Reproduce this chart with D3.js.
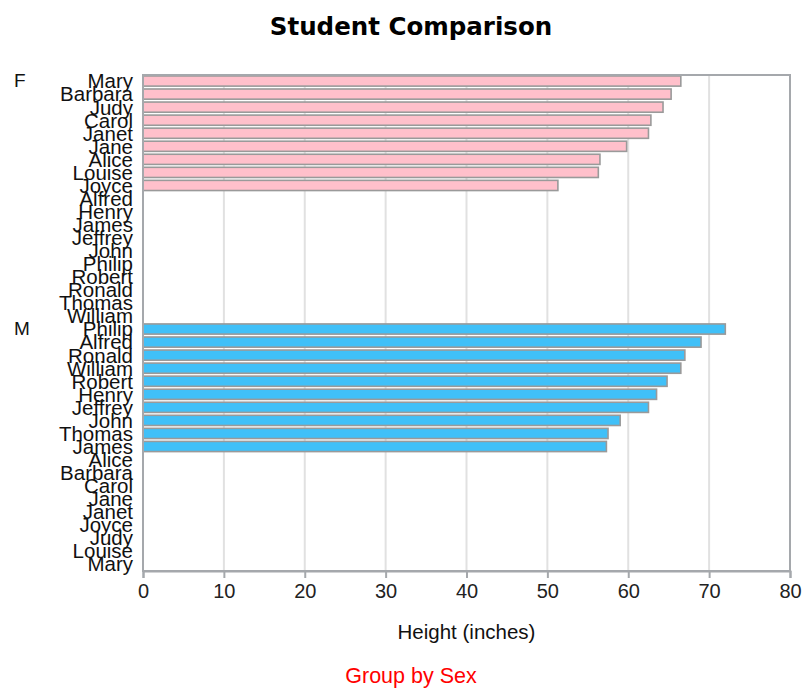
<!DOCTYPE html>
<html>
<head>
<meta charset="utf-8">
<script src="https://cdn.jsdelivr.net/npm/d3@7"></script>
<style>
  html, body { margin: 0; padding: 0; background: #fff; }
  svg { display: block; }
  text { font-family: "Liberation Sans", Arial, sans-serif; }
</style>
</head>
<body>
<svg id="chart" width="803" height="688"></svg>
<script>
// ---- data ----
const names   = ["Alfred","Alice","Barbara","Carol","Henry","James","Jane","Janet","Jeffrey","John","Joyce","Judy","Louise","Mary","Philip","Robert","Ronald","Thomas","William"];
const sexes   = ["M","F","F","F","M","M","F","F","M","M","F","F","F","F","M","M","M","M","M"];
const heights = [69.0,56.5,65.3,62.8,63.5,57.3,59.8,62.5,62.5,59.0,51.3,64.3,56.3,66.5,72.0,64.8,67.0,57.5,66.5];
const groups  = ["F","M"];
const xTicks  = [0,10,20,30,40,50,60,70,80];
const colors  = {F: "#FFC0CB", M: "#40C0F8"};
const titleText = "Student Comparison";
const xLabel = "Height (inches)";
const footText = "Group by Sex";

const students = names.map((n,i) => ({name: n, sex: sexes[i], height: heights[i]}));

const rows = [];
groups.forEach(g => {
  const inG = students.filter(s => s.sex === g).sort((a,b) => b.height - a.height);
  const out = students.filter(s => s.sex !== g).sort((a,b) => d3.ascending(a.name,b.name));
  inG.forEach((s,i) => rows.push({key: g + "|" + s.name, group: g, name: s.name, value: s.height, first: i === 0}));
  out.forEach(s => rows.push({key: g + "|" + s.name, group: g, name: s.name, value: null, first: false}));
});

const svg = d3.select("#chart");
const pLeft = 143, pRight = 790, pTop = 75, pBottom = 571;

const x = d3.scaleLinear().domain([0, 80]).range([pLeft, pRight]);
const y = d3.scaleBand().domain(rows.map(r => r.key)).range([pTop - 0.5, pBottom - 0.5]).paddingInner(0.22).paddingOuter(0.11);

svg.append("text").attr("x", 411).attr("y", 35).attr("text-anchor", "middle")
  .style("font-family", "'DejaVu Sans', Verdana, sans-serif").style("font-weight", "bold").style("font-size", "24.5px")
  .text(titleText);

svg.append("g").selectAll("line").data(xTicks.filter(t => t > 0 && t < 80)).join("line")
  .attr("x1", d => x(d)).attr("x2", d => x(d)).attr("y1", pTop).attr("y2", pBottom)
  .attr("stroke", "#E1E1E1").attr("stroke-width", 2);

svg.append("g").selectAll("rect").data(rows.filter(r => r.value != null)).join("rect")
  .attr("x", x(0)).attr("y", d => y(d.key))
  .attr("width", d => x(d.value) - x(0)).attr("height", y.bandwidth())
  .attr("fill", d => colors[d.group]).attr("stroke", "#9A9A9A").attr("stroke-width", 1.6);

svg.append("rect").attr("x", pLeft).attr("y", pTop).attr("width", pRight - pLeft).attr("height", pBottom - pTop)
  .attr("fill", "none").attr("stroke", "#A5A8AC").attr("stroke-width", 2);

const xAxis = d3.axisBottom(x).tickValues(xTicks).tickSize(7).tickPadding(6).tickFormat(d3.format("d"));
const gx = svg.append("g").attr("transform", `translate(0,${pBottom})`).call(xAxis);
gx.select(".domain").attr("stroke", "#A5A8AC").attr("stroke-width", 2);
gx.selectAll(".tick line").attr("stroke", "#A5A8AC").attr("stroke-width", 2);
gx.selectAll(".tick text").style("font-size", "20px").attr("fill", "#222");

const yAxis = d3.axisLeft(y).tickSize(0).tickPadding(10).tickFormat(k => k.split("|")[1]);
const gy = svg.append("g").attr("transform", `translate(${pLeft},0)`).call(yAxis);
gy.select(".domain").remove();
gy.selectAll(".tick text").style("font-size", "20.5px").attr("fill", "#111").attr("dy", "0.36em");

svg.append("g").selectAll("text").data(rows.filter(r => r.first)).join("text")
  .attr("x", 14).attr("y", d => y(d.key) + y.bandwidth() / 2 + 6)
  .style("font-size", "19px").attr("fill", "#111")
  .text(d => d.group);

svg.append("text").attr("x", (pLeft + pRight) / 2).attr("y", 639).attr("text-anchor", "middle")
  .style("font-size", "20.5px").attr("fill", "#111").text(xLabel);

svg.append("text").attr("x", 411).attr("y", 683).attr("text-anchor", "middle")
  .style("font-size", "21.5px").attr("fill", "#FF0000").text(footText);
</script>
</body>
</html>
